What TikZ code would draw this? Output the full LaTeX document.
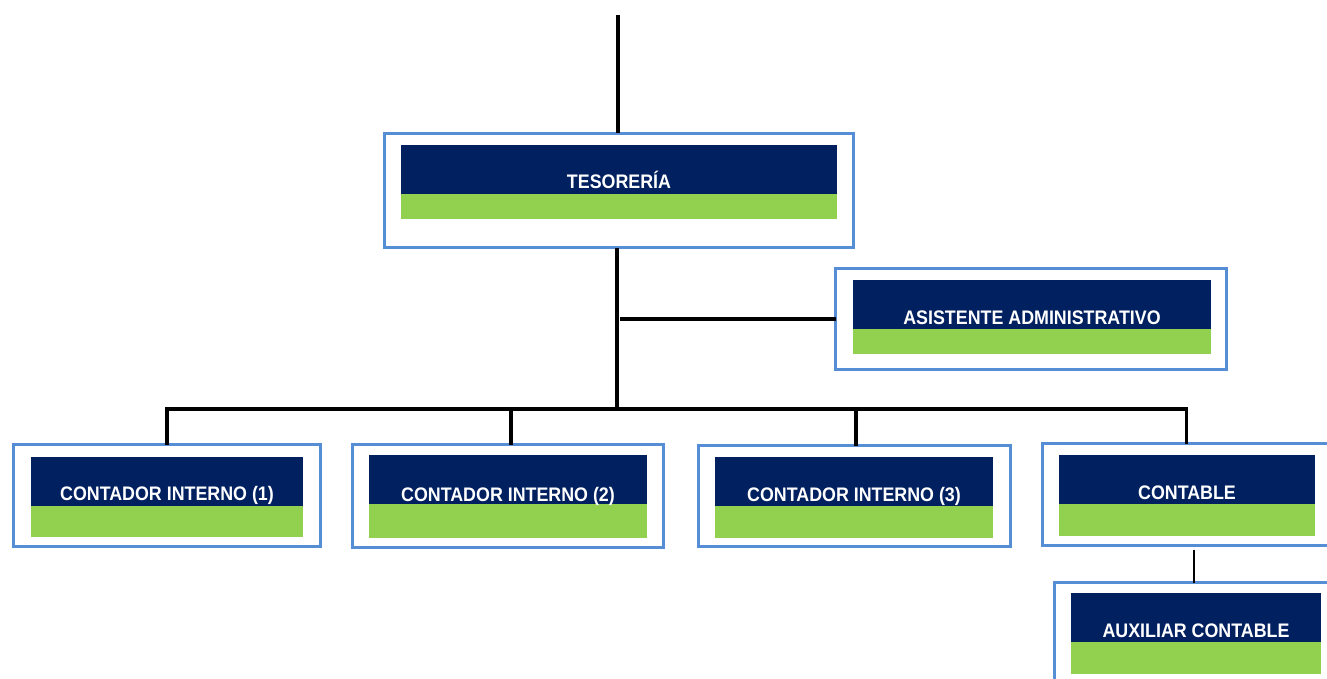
\documentclass[tikz,border=0pt]{standalone}
\usepackage{fontspec}
\usetikzlibrary{fit}
\newfontfamily\boxfont{Liberation Sans}[FakeStretch=0.91]
\definecolor{frameblue}{HTML}{558ED5}
\definecolor{navy}{HTML}{002060}
\definecolor{leaf}{HTML}{92D050}
\tikzset{
  frame/.style={draw=frameblue, line width=3pt, inner sep=0pt, outer sep=0pt},
  title/.style={text=white, font=\boxfont\bfseries\fontsize{19.6}{19.6}\selectfont, anchor=base, inner sep=0pt},
  conn/.style={draw=black, line width=3.2pt},
  thinconn/.style={draw=black, line width=1.8pt}
}
\begin{document}
\begin{tikzpicture}[x=1pt, y=-1pt]
\useasboundingbox (0,0) rectangle (1327,679);

% Tesorería
\node[frame, fit={(384.5,133.5) (853.5,247.5)}] (tes) {};
\fill[navy] (401,145) rectangle (837,194);
\fill[leaf] (401,194) rectangle (837,219);
\node[title] (tesT) at (619,189) {TESORERÍA};

% Asistente administrativo
\node[frame, fit={(835.5,268.5) (1226.5,369.5)}] (asis) {};
\fill[navy] (853,280) rectangle (1211,329);
\fill[leaf] (853,329) rectangle (1211,354);
\node[title] (asisT) at (1032,324) {ASISTENTE ADMINISTRATIVO};

% Contador interno (1)
\node[frame, fit={(13.5,444.5) (320.5,546.5)}] (c1) {};
\fill[navy] (31,457) rectangle (303,506);
\fill[leaf] (31,506) rectangle (303,537);
\node[title] (c1T) at (167,500.5) {CONTADOR INTERNO (1)};

% Contador interno (2)
\node[frame, fit={(352.5,444.5) (663.5,547.5)}] (c2) {};
\fill[navy] (369,455) rectangle (647,504);
\fill[leaf] (369,504) rectangle (647,538);
\node[title] (c2T) at (508,501) {CONTADOR INTERNO (2)};

% Contador interno (3)
\node[frame, fit={(698.5,445.5) (1010.5,546.5)}] (c3) {};
\fill[navy] (715,457) rectangle (993,506);
\fill[leaf] (715,506) rectangle (993,538);
\node[title] (c3T) at (854,501.5) {CONTADOR INTERNO (3)};

% Contable
\node[frame, fit={(1042.5,443.5) (1330,545.5)}] (cont) {};
\fill[navy] (1059,455) rectangle (1315,504);
\fill[leaf] (1059,504) rectangle (1315,536);
\node[title] (contT) at (1187,499) {CONTABLE};

% Auxiliar contable
\node[frame, fit={(1054.5,582.5) (1333.5,700)}] (aux) {};
\fill[navy] (1071,593) rectangle (1321,642);
\fill[leaf] (1071,642) rectangle (1321,674);
\node[title] (auxT) at (1196,637) {AUXILIAR CONTABLE};

% Connectors
\coordinate (top) at (618,15);
\coordinate (hub) at (617,409);
\draw[conn] (top) -- (top |- tes.north);
\draw[conn] (hub |- tes.south) -- (hub);
\draw[conn] ([xshift=3pt]hub |- asis.west) -- (asis.west);
\draw[conn, line join=miter] (c1.north) -- (c1.north |- hub) -- (cont.north |- hub) -- (cont.north);
\draw[conn] ([xshift=3pt]c2.north) -- ([xshift=3pt]c2.north |- hub);
\draw[conn] ([xshift=1.5pt]c3.north) -- ([xshift=1.5pt]c3.north |- hub);
\draw[thinconn] (aux.north |- cont.south) ++(0,4) -- (aux.north);
\end{tikzpicture}
\end{document}
